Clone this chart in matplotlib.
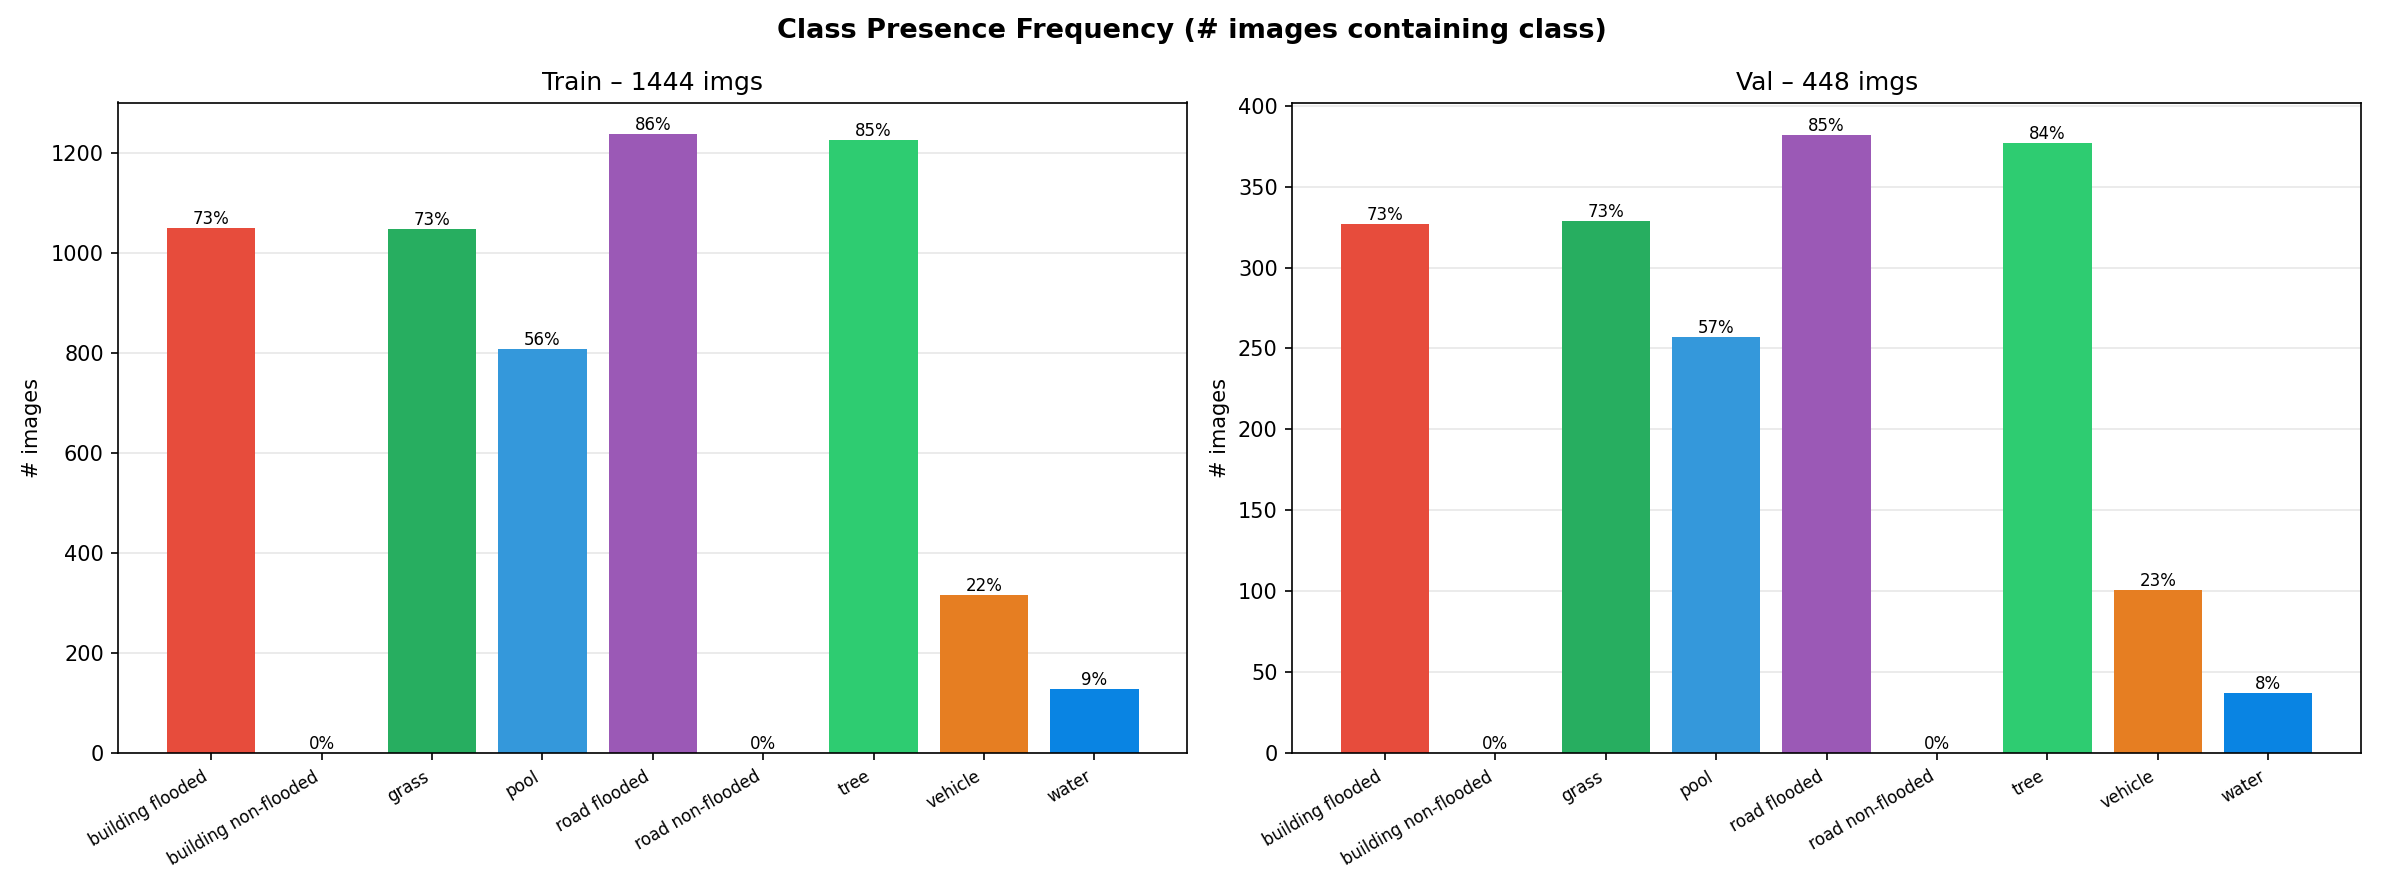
import numpy as np
import matplotlib.pyplot as plt

classes = ['building flooded', 'building non-flooded', 'grass', 'pool', 'road flooded',
           'road non-flooded', 'tree', 'vehicle', 'water']
colors = ['#e74c3c', '#c0392b', '#27ae60', '#3498db', '#9b59b6',
          '#7f8c8d', '#2ecc71', '#e67e22', '#0984e3']
train_counts = [1050, 0, 1047, 808, 1238, 0, 1225, 315, 128]
val_counts = [327, 0, 329, 257, 382, 0, 377, 101, 37]
train_total = 1444
val_total = 448

fig, axes = plt.subplots(1, 2, figsize=(15.89, 5.94), dpi=150)
for ax, counts, total, name in zip(axes, [train_counts, val_counts],
                                   [train_total, val_total], ['Train', 'Val']):
    x = np.arange(len(classes))
    bars = ax.bar(x, counts, color=colors)
    for b, c in zip(bars, counts):
        ax.text(b.get_x() + b.get_width() / 2, c, f'{c / total * 100:.0f}%',
                ha='center', va='bottom', fontsize=8)
    ax.set_xticks(x)
    ax.set_xticklabels(classes, rotation=30, ha='right', fontsize=8)
    ax.set_ylabel('# images')
    ax.set_title(f'{name} – {total} imgs')
    ax.grid(axis='y', alpha=0.3)
    ax.set_axisbelow(True)

axes[0].set_ylim(0, 1300)
axes[1].set_ylim(0, 402)
fig.suptitle('Class Presence Frequency (# images containing class)', fontweight='bold', fontsize=13)
fig.tight_layout()
fig.savefig('out.png')
